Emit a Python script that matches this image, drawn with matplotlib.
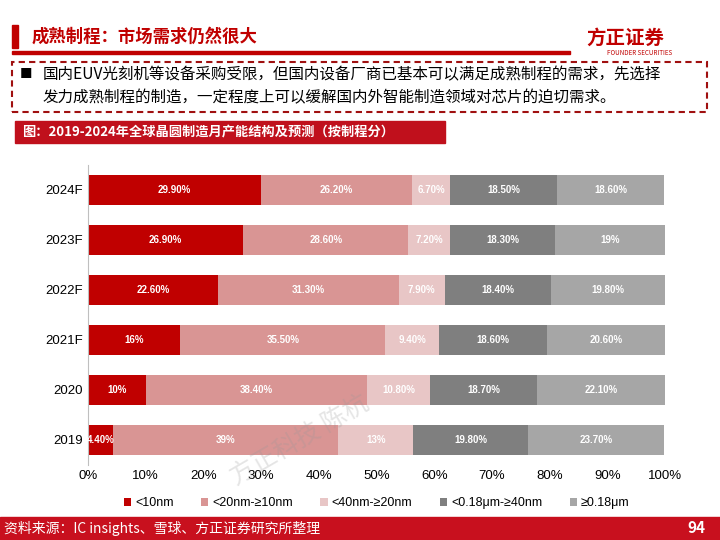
import numpy as np
import matplotlib.pyplot as plt
from matplotlib.patches import Rectangle

plt.rcParams['font.family'] = ['Noto Sans CJK SC', 'DejaVu Sans']
LAT = ['Liberation Sans', 'DejaVu Sans']

years = ['2019', '2020', '2021F', '2022F', '2023F', '2024F']
series = ['<10nm', '<20nm-≥10nm', '<40nm-≥20nm', '<0.18μm-≥40nm', '≥0.18μm']
values = [
    [4.4, 10.0, 16.0, 22.6, 26.9, 29.9],
    [39.0, 38.4, 35.5, 31.3, 28.6, 26.2],
    [13.0, 10.8, 9.4, 7.9, 7.2, 6.7],
    [19.8, 18.7, 18.6, 18.4, 18.3, 18.5],
    [23.7, 22.1, 20.6, 19.8, 19.0, 18.6],
]
labels = [
    ['4.40%', '10%', '16%', '22.60%', '26.90%', '29.90%'],
    ['39%', '38.40%', '35.50%', '31.30%', '28.60%', '26.20%'],
    ['13%', '10.80%', '9.40%', '7.90%', '7.20%', '6.70%'],
    ['19.80%', '18.70%', '18.60%', '18.40%', '18.30%', '18.50%'],
    ['23.70%', '22.10%', '20.60%', '19.80%', '19%', '18.60%'],
]
colors = ['#C00000', '#D99594', '#E8C6C6', '#7F7F7F', '#A6A6A6']

fig = plt.figure(figsize=(7.2, 5.4), dpi=100)
W, H = 720, 540

def fx(x): return x / W
def fy(y): return 1 - y / H

# header
fig.patches.append(Rectangle((fx(12), fy(48)), fx(6), 23 / H, transform=fig.transFigure, color='#C00000'))
fig.text(fx(32), fy(37), '成熟制程：市场需求仍然很大', color='#C00000', fontsize=12.5, fontweight='bold', va='center')
fig.patches.append(Rectangle((fx(12), fy(54)), fx(558), 2.5 / H, transform=fig.transFigure, color='#C00000'))
fig.text(fx(625), fy(38), '方正证券', color='#C00000', fontsize=14, fontweight='bold', va='center', ha='center')
fig.text(fx(640), fy(53), 'FOUNDER SECURITIES', color='#C00000', fontsize=4.5, va='center', ha='center')
fig.patches.append(Rectangle((fx(12), fy(112)), fx(695), 50 / H, transform=fig.transFigure,
                             fill=False, ec='#A01010', lw=1.5, ls=(0, (3, 2))))
fig.text(fx(20), fy(75), '■', fontsize=9, va='center')
fig.text(fx(43), fy(75), '国内EUV光刻机等设备采购受限，但国内设备厂商已基本可以满足成熟制程的需求，先选择',
         fontsize=11.2, va='center')
fig.text(fx(43), fy(98), '发力成熟制程的制造，一定程度上可以缓解国内外智能制造领域对芯片的迫切需求。',
         fontsize=11.2, va='center')
fig.patches.append(Rectangle((fx(15), fy(143)), fx(430), 22 / H, transform=fig.transFigure, color='#C0101C'))
fig.text(fx(22), fy(132), '图：2019-2024年全球晶圆制造月产能结构及预测（按制程分）', color='white',
         fontsize=9.5, fontweight='bold', va='center')

# footer
fig.patches.append(Rectangle((0, 0), 1, 23 / H, transform=fig.transFigure, color='#C8101E'))
fig.text(fx(4), fy(528), '资料来源：IC insights、雪球、方正证券研究所整理', color='white', fontsize=10, va='center')
fig.text(fx(705), fy(528), '94', color='white', fontsize=11, fontweight='bold', va='center', ha='right')

# chart
ax = fig.add_axes([fx(88), fy(465), fx(577), 300 / H])
y = np.arange(len(years))
left = np.zeros(len(years))
for vals, labs, c, name in zip(values, labels, colors, series):
    vals = np.array(vals)
    ax.barh(y, vals, left=left, height=0.6, color=c, label=name)
    for yi, v, l, lab in zip(y, vals, left, labs):
        ax.text(l + v / 2, yi, lab, ha='center', va='center', color='white', fontsize=7,
                fontweight='bold', family=LAT)
    left += vals
ax.set_xlim(0, 100)
ax.set_ylim(-0.5, len(years) - 0.5)
ax.set_yticks(y)
ax.set_yticklabels(years, fontsize=9.5, family=LAT)
ax.set_xticks(np.arange(0, 101, 10))
ax.set_xticklabels([f'{v}%' for v in range(0, 101, 10)], fontsize=9.5, family=LAT)
ax.tick_params(length=0)
for s in ['top', 'right', 'bottom']:
    ax.spines[s].set_visible(False)
ax.spines['left'].set_color('#BFBFBF')
ax.legend(loc='upper center', bbox_to_anchor=(0.5, -0.07), ncol=5, frameon=False,
          prop={'family': LAT, 'size': 9},
          handlelength=0.6, handleheight=0.6, handletextpad=0.3, columnspacing=2.2)

fig.text(fx(300), fy(440), '方正科技 陈杭', color='#999999', alpha=0.25, fontsize=18, rotation=30,
         ha='center', va='center')

fig.savefig('out.png', dpi=100)
